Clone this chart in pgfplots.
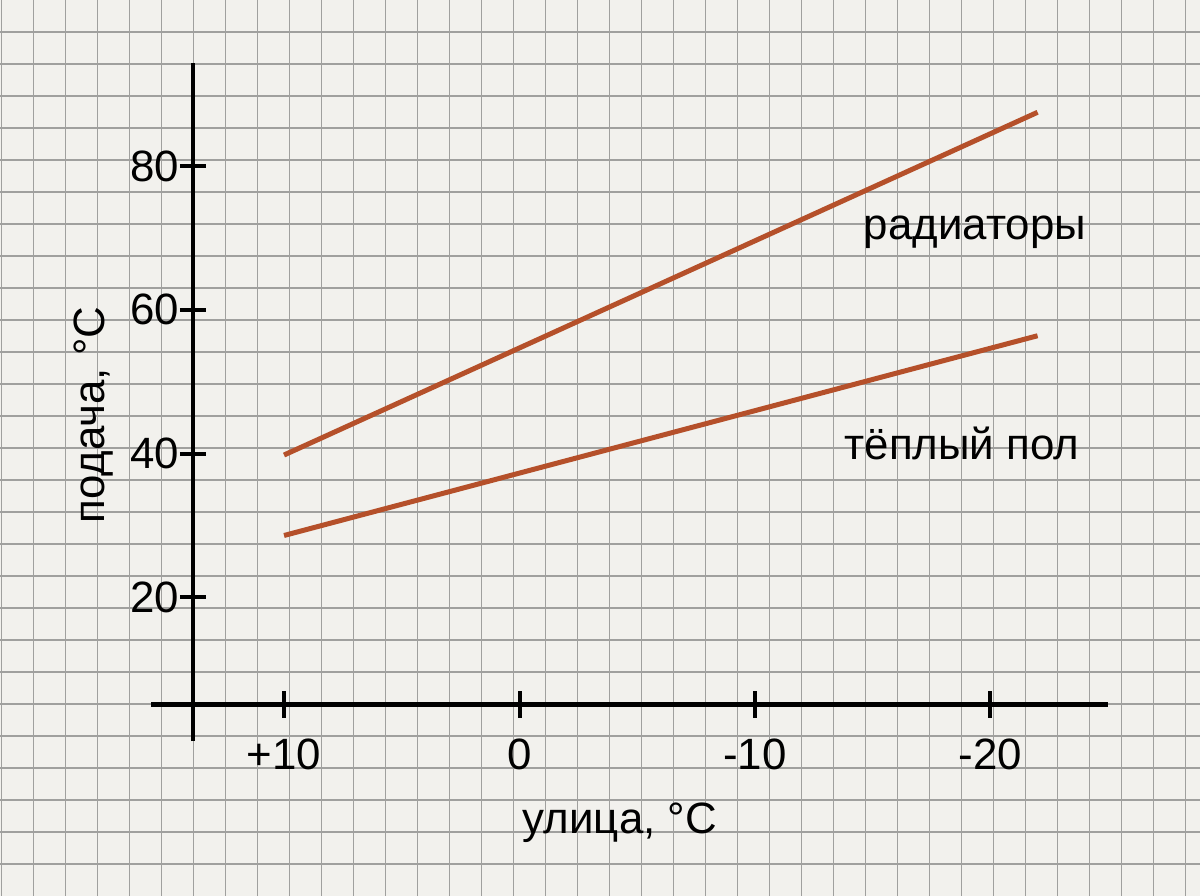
\documentclass[border=0pt]{standalone}
\usepackage{fontspec}
\setmainfont{Liberation Sans}
\usepackage{pgfplots}
\pgfplotsset{compat=1.18}
\definecolor{paper}{RGB}{242,241,237}
\definecolor{gridc}{RGB}{160,160,158}
\definecolor{curve}{RGB}{181,80,42}
\begin{document}
\begin{tikzpicture}
% background grid paper
\begin{axis}[name=bg, at={(0,0)}, anchor=south west,
  scale only axis, width=600bp, height=448bp,
  xmin=0, xmax=1200, ymin=0, ymax=896, y dir=reverse,
  xtick={1.3,33.3,...,1200}, ytick={32,64,...,864},
  grid=major, major grid style={draw=gridc, line width=0.6bp},
  xticklabels={}, yticklabels={}, major tick length=0pt,
  axis line style={draw=none},
  axis background/.style={fill=paper},
]
\addplot[draw=none] coordinates {(0,0)};
\end{axis}
% data axis
\begin{axis}[at={(75.5bp,77.5bp)}, anchor=south west,
  scale only axis, width=478.5bp, height=339bp,
  font=\fontsize{22}{26}\selectfont,
  x dir=reverse,
  xmin=-24.99, xmax=15.65, ymin=0, ymax=94.36,
  axis lines=left,
  axis line style={-, line width=2.2bp, black},
  axis x line shift=-18.25bp,
  axis y line shift=-21bp,
  xtick={10,0,-10,-20}, xticklabels={+10,0,-10,-20},
  ytick={20,40,60,80},
  /pgf/number format/assume math mode=true,
  tick align=center, major tick length=13bp,
  tick style={line width=2bp, black},
  xticklabel style={yshift=-7bp},
  yticklabel style={xshift=3bp},
  clip=false,
  xlabel={улица, °C}, ylabel={подача, °C},
  every axis x label/.style={at={(axis description cs:0.490,-0.137)}, anchor=base},
  every axis y label/.style={at={(axis description cs:-0.0481,0.4808)}, rotate=90, anchor=base},
]
\addplot[curve, line width=2.5bp] coordinates {(10,39.8) (-22,87.5)};
\addplot[curve, line width=2.5bp] coordinates {(10,28.6) (-22,56.4)};
\node[anchor=base] at (rel axis cs:0.861,0.7404) {радиаторы};
\node[anchor=base] at (rel axis cs:0.8474,0.4145) {тёплый пол};
\end{axis}
\pgfresetboundingbox
\path (bg.south west) rectangle (bg.north east);
\end{tikzpicture}
\end{document}
